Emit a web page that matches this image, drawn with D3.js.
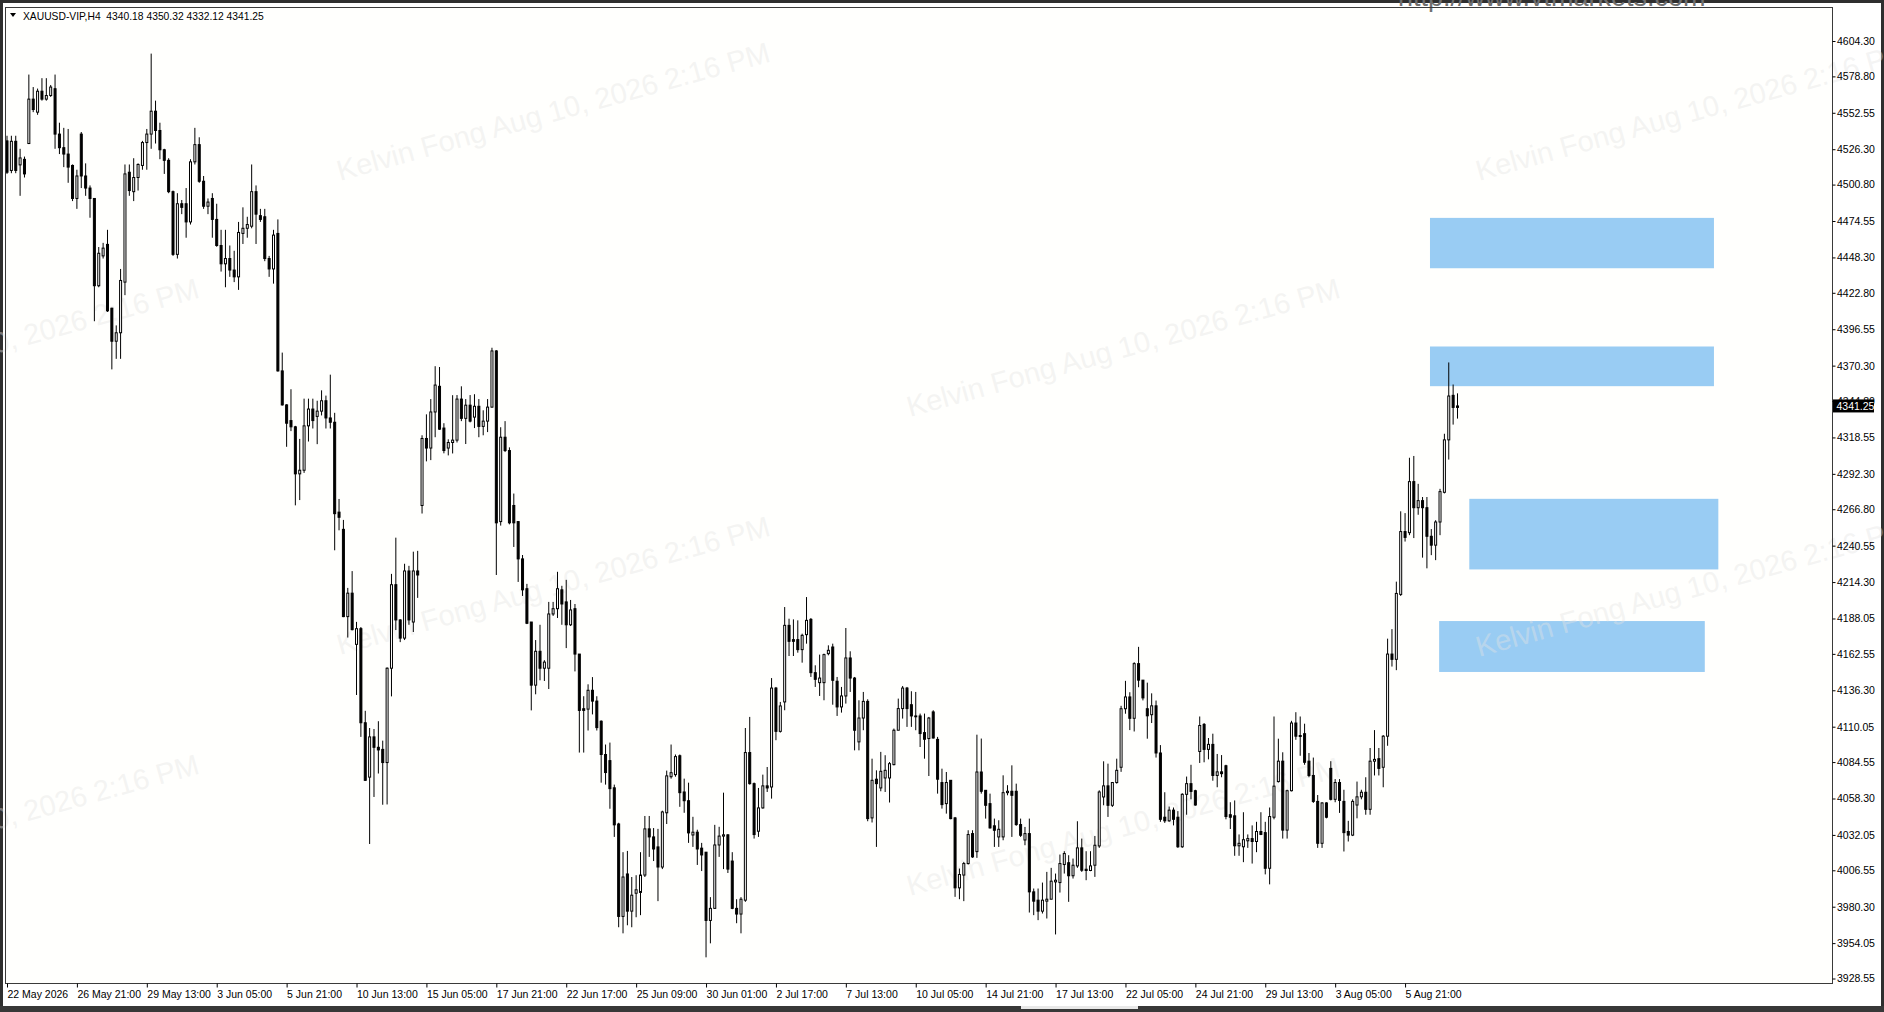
<!DOCTYPE html>
<html><head><meta charset="utf-8">
<script src="https://cdn.jsdelivr.net/npm/d3@7/dist/d3.min.js"></script>
<style>
html,body{margin:0;padding:0;background:#2f2f2f;overflow:hidden;}
svg{display:block;}
text{font-family:"Liberation Sans",Arial,sans-serif;}
</style></head><body>
<svg id="c" width="1884" height="1012"></svg>
<script>
// ---------------- DATA ----------------
const symbol = "XAUUSD-VIP,H4";
const headerOHLC = ["4340.18","4350.32","4332.12","4341.25"];
const lastPrice = 4341.25;

const opens = [
4532.3,4511.0,4532.0,4515.0,4519.0,4530.4,4562.4,4553.0,4568.1,4562.4,
4565.0,4569.9,4537.2,4527.4,4522.8,4514.6,4490.8,4537.2,4507.0,4498.3,
4490.8,4427.9,4449.4,4457.7,4411.7,4387.9,4394.0,4430.5,4509.7,4495.7,
4505.9,4514.6,4531.1,4537.2,4553.7,4539.8,4525.9,4518.3,4495.7,4450.5,
4487.0,4487.0,4473.9,4517.2,4529.6,4503.2,4485.2,4490.8,4475.7,4456.9,
4443.7,4447.5,4439.2,4434.3,4465.6,4469.3,4470.8,4495.7,4478.4,4477.6,
4447.5,4440.0,4465.6,4366.5,4342.0,4330.7,4326.2,4292.3,4294.9,4326.9,
4339.0,4333.7,4337.5,4345.0,4332.6,4329.5,4264.7,4252.3,4189.4,4206.3,
4169.4,4180.7,4112.9,4073.7,4102.7,4095.2,4093.7,4084.2,4152.2,4212.4,
4187.0,4173.9,4222.3,4185.5,4222.3,4269.5,4317.8,4310.9,4336.9,4355.4,
4325.3,4310.9,4314.9,4316.6,4346.2,4332.3,4341.8,4333.2,4341.0,4326.5,
4330.3,4340.4,4380.9,4257.9,4318.7,4309.1,4269.5,4257.9,4231.0,4209.5,
4185.5,4140.0,4164.4,4152.2,4152.2,4191.3,4195.1,4208.7,4200.0,4183.5,
4195.1,4162.4,4123.0,4122.7,4136.3,4128.5,4114.0,4090.0,4085.6,4066.0,
4039.9,3973.3,4003.9,3977.1,3990.0,3990.6,4003.1,4036.4,4030.6,4023.4,
4008.9,4048.0,4074.0,4075.5,4089.1,4063.0,4056.7,4032.0,4034.0,4022.5,
4019.6,3970.4,3979.1,4024.8,4031.2,4032.1,4013.2,3979.1,3975.0,3985.0,
4091.4,4069.0,4034.7,4051.5,4067.4,4066.6,4137.9,4106.7,4127.9,4183.1,
4172.8,4172.8,4165.6,4176.4,4187.4,4149.0,4141.8,4141.8,4162.7,4167.5,
4142.8,4124.3,4132.2,4159.6,4145.1,4099.1,4116.3,4128.3,4044.3,4072.2,
4065.9,4073.1,4073.1,4082.7,4107.5,4123.1,4137.9,4125.9,4117.8,4117.8,
4105.8,4101.5,4120.7,4100.9,4069.8,4054.6,4071.4,4044.3,3993.9,4003.1,
4011.4,4033.0,4020.0,4077.4,4064.2,4054.6,4038.6,4030.6,4030.6,4062.5,
4063.5,4063.5,4039.5,4028.4,4033.0,3991.0,3985.0,3977.1,3984.3,3985.7,
3998.2,3997.7,4010.7,4012.0,4002.6,4009.7,4022.7,4007.3,4006.4,4010.2,
4024.1,4059.4,4067.4,4053.4,4069.8,4080.8,4123.0,4131.5,4116.1,4155.5,
4143.6,4123.0,4118.7,4125.1,4091.1,4044.8,4042.2,4049.9,4044.8,4023.5,
4061.3,4069.0,4063.9,4092.2,4111.7,4093.7,4097.3,4074.9,4077.5,4081.9,
4046.6,4045.8,4024.2,4023.5,4027.8,4029.4,4027.3,4034.5,4033.7,4008.0,
4044.8,4070.5,4085.2,4035.5,4063.9,4112.7,4103.7,4105.0,4085.2,4074.9,
4056.2,4026.0,4055.1,4080.0,4057.7,4069.8,4056.2,4034.5,4031.9,4053.6,
4059.5,4062.8,4050.5,4085.2,4087.0,4080.8,4103.2,4162.4,4158.6,4205.4,
4250.7,4249.9,4286.7,4267.9,4273.0,4267.9,4247.3,4240.9,4257.6,4279.0,
4316.8,4348.9,4340.18];

const highs = [
4536.0,4536.0,4536.0,4526.6,4521.0,4580.1,4571.1,4570.0,4577.5,4577.5,
4572.6,4580.1,4545.4,4541.7,4540.9,4515.3,4511.5,4538.7,4516.1,4500.2,
4491.0,4455.8,4458.8,4468.2,4412.0,4399.3,4440.0,4515.3,4515.3,4519.8,
4516.1,4532.3,4540.9,4595.2,4561.3,4545.4,4526.6,4519.8,4496.5,4494.6,
4489.7,4498.3,4519.1,4541.7,4534.9,4507.0,4490.8,4494.6,4487.0,4468.2,
4468.2,4456.9,4453.1,4473.9,4484.4,4477.6,4515.3,4500.2,4483.3,4483.3,
4449.4,4468.2,4475.7,4379.7,4342.5,4353.3,4326.9,4317.5,4346.5,4346.5,
4346.5,4345.0,4352.5,4348.7,4363.8,4336.3,4274.2,4259.1,4210.1,4222.2,
4185.6,4181.9,4121.5,4109.1,4108.4,4114.0,4100.0,4152.8,4220.2,4246.3,
4187.5,4227.5,4226.0,4236.2,4236.8,4320.1,4335.2,4346.2,4369.9,4369.3,
4328.8,4317.2,4349.0,4349.1,4355.4,4346.2,4349.1,4349.7,4346.2,4338.1,
4346.2,4383.2,4381.5,4325.9,4330.3,4311.4,4278.1,4258.0,4233.8,4213.0,
4185.5,4172.5,4183.5,4158.0,4200.0,4200.0,4221.7,4211.6,4215.9,4201.4,
4198.5,4162.4,4132.0,4140.6,4145.8,4132.0,4114.6,4097.2,4098.6,4068.3,
4040.8,4019.6,4020.5,4001.7,4003.0,4019.6,4045.7,4045.7,4037.0,4036.4,
4049.5,4078.4,4097.2,4090.0,4090.0,4072.6,4069.7,4045.1,4035.8,4026.3,
4019.6,3987.2,4039.3,4037.9,4062.5,4032.5,4019.6,3985.7,3987.2,4109.1,
4117.1,4069.8,4065.9,4075.5,4081.0,4145.1,4138.7,4127.9,4196.3,4187.9,
4187.4,4186.7,4177.1,4203.5,4188.4,4154.3,4162.0,4162.7,4168.7,4169.9,
4145.9,4138.7,4181.2,4164.4,4145.9,4129.1,4135.1,4129.8,4087.0,4078.6,
4091.9,4089.5,4084.6,4108.7,4130.3,4139.4,4138.7,4135.6,4135.1,4119.5,
4119.5,4117.1,4121.9,4102.7,4079.8,4077.4,4071.4,4045.0,4007.8,4012.6,
4035.4,4035.4,4104.3,4101.5,4064.2,4061.8,4043.8,4042.6,4075.0,4067.9,
4082.2,4069.0,4043.8,4037.8,4043.8,3993.4,3993.4,3997.7,4005.4,4008.3,
4004.2,4017.9,4020.3,4017.4,4015.0,4041.9,4029.4,4020.3,4020.3,4031.3,
4064.2,4085.1,4083.4,4070.2,4087.0,4125.1,4143.1,4134.9,4156.5,4167.6,
4143.6,4141.8,4134.1,4128.9,4096.8,4062.8,4052.5,4051.8,4049.2,4062.1,
4074.1,4082.6,4064.6,4117.4,4112.7,4101.9,4105.0,4090.4,4089.6,4082.6,
4055.6,4056.9,4032.4,4048.4,4032.4,4038.9,4041.5,4048.4,4041.5,4051.8,
4117.4,4101.4,4091.6,4064.6,4114.3,4120.5,4117.4,4112.2,4091.1,4087.8,
4060.8,4055.6,4055.6,4085.2,4072.3,4072.3,4064.6,4042.2,4057.7,4070.5,
4064.6,4073.6,4094.7,4107.6,4094.7,4104.0,4173.5,4180.4,4214.6,4265.3,
4264.0,4303.9,4305.2,4285.1,4275.6,4275.6,4252.5,4258.9,4281.5,4321.2,
4372.6,4356.7,4350.32];

const lows = [
4508.5,4509.0,4509.0,4492.7,4505.9,4530.0,4553.0,4551.1,4561.3,4561.3,
4564.0,4526.6,4522.8,4513.4,4502.1,4488.9,4483.3,4498.3,4492.7,4476.9,
4402.3,4426.8,4447.5,4409.0,4367.6,4375.2,4375.2,4421.1,4492.7,4488.9,
4496.5,4511.5,4511.5,4526.6,4530.4,4519.1,4508.5,4494.6,4449.4,4447.5,
4479.5,4462.5,4472.0,4515.3,4502.1,4483.3,4479.5,4462.5,4456.0,4438.1,
4426.8,4434.3,4430.5,4424.9,4458.0,4462.5,4469.3,4458.0,4473.9,4445.6,
4434.3,4429.4,4366.0,4341.5,4311.8,4323.1,4269.6,4273.4,4293.0,4315.6,
4325.0,4313.7,4334.4,4325.0,4325.0,4237.2,4251.6,4189.0,4174.3,4179.5,
4132.9,4102.7,4071.0,4025.5,4059.4,4076.3,4053.8,4054.0,4131.9,4179.7,
4171.0,4172.5,4183.5,4178.3,4202.9,4263.7,4301.3,4302.2,4318.7,4324.0,
4307.1,4305.6,4307.0,4314.9,4330.3,4313.8,4329.4,4325.3,4318.7,4320.1,
4322.4,4340.0,4219.4,4255.0,4308.0,4255.9,4239.6,4214.4,4204.3,4184.0,
4121.8,4133.4,4143.5,4143.0,4137.2,4189.9,4188.4,4183.5,4166.7,4182.6,
4149.9,4091.4,4091.4,4107.3,4118.9,4107.3,4069.7,4068.3,4050.9,4030.6,
3965.5,3961.1,3966.9,3965.5,3972.7,3974.2,4001.7,4016.2,4013.2,3984.3,
4007.4,4039.9,4072.6,4074.0,4052.3,4048.0,4026.3,4023.4,4010.4,4006.0,
3943.8,3953.9,3979.0,4016.2,4007.4,4004.6,3978.5,3968.4,3961.1,3983.8,
4068.3,4029.4,4030.6,4051.0,4063.0,4058.2,4100.3,4105.8,4121.9,4161.0,
4161.0,4163.4,4156.2,4169.9,4145.9,4138.7,4132.2,4129.1,4161.5,4125.9,
4117.8,4120.2,4126.7,4135.1,4093.0,4093.0,4107.5,4041.9,4041.0,4023.4,
4063.5,4063.0,4055.4,4082.2,4107.5,4115.9,4109.9,4109.9,4107.5,4095.4,
4087.0,4074.5,4101.5,4061.8,4051.0,4047.4,4043.3,3987.4,3985.7,3984.3,
4010.7,4015.5,4015.5,4061.8,4043.8,4036.6,4023.4,4023.4,4028.2,4060.6,
4030.6,4038.6,4030.6,4024.6,3976.1,3974.2,3970.6,3975.4,3971.8,3985.7,
3960.3,3990.5,4004.2,3983.8,4000.6,4008.3,4005.4,3999.4,4005.9,4001.8,
4022.7,4053.4,4045.0,4052.2,4069.0,4077.5,4119.4,4107.6,4106.6,4138.5,
4129.0,4101.4,4112.7,4087.8,4041.5,4040.7,4041.5,4038.9,4022.7,4022.7,
4046.6,4057.7,4053.1,4083.9,4084.4,4086.5,4071.1,4066.4,4073.6,4043.3,
4036.3,4017.0,4017.0,4012.4,4022.7,4011.4,4019.6,4031.9,4003.6,3996.4,
4043.3,4069.8,4029.4,4029.4,4063.4,4100.6,4089.1,4082.6,4073.6,4055.1,
4022.7,4022.7,4044.0,4056.9,4055.6,4047.9,4020.1,4027.3,4031.2,4044.0,
4057.7,4046.6,4046.6,4074.9,4074.9,4066.4,4096.3,4153.4,4150.8,4204.3,
4243.5,4248.1,4246.0,4262.8,4231.9,4224.2,4233.7,4230.1,4248.1,4278.2,
4302.6,4327.8,4332.12];

const closes = [
4509.7,4532.0,4511.0,4520.0,4508.5,4562.4,4554.9,4568.1,4562.4,4565.0,
4571.1,4537.2,4527.4,4522.8,4513.4,4490.8,4507.0,4507.0,4498.3,4490.8,
4427.9,4451.3,4455.0,4409.8,4387.9,4394.0,4431.7,4508.5,4496.5,4505.9,
4515.3,4531.1,4537.2,4553.7,4539.8,4525.9,4518.3,4495.7,4450.5,4487.0,
4484.4,4473.9,4517.2,4529.6,4503.2,4485.2,4488.2,4475.7,4456.9,4443.7,
4447.5,4439.2,4434.3,4466.3,4469.3,4472.0,4495.7,4479.5,4475.7,4447.5,
4440.0,4464.4,4366.5,4342.0,4328.8,4326.2,4292.3,4294.9,4326.9,4339.0,
4330.7,4337.5,4345.0,4332.6,4329.5,4263.6,4261.0,4189.4,4206.3,4180.0,
4180.7,4112.9,4071.4,4102.7,4095.2,4093.3,4084.2,4152.2,4212.4,4187.0,
4173.9,4222.3,4187.0,4222.3,4219.4,4317.8,4310.9,4336.9,4356.3,4324.5,
4309.1,4314.9,4316.6,4346.2,4332.3,4341.8,4330.3,4341.0,4326.5,4330.3,
4340.4,4380.9,4257.0,4318.7,4309.1,4257.0,4257.0,4231.0,4208.7,4184.6,
4140.0,4164.4,4152.2,4156.6,4191.3,4195.1,4209.5,4198.5,4183.5,4194.2,
4162.4,4121.8,4121.8,4136.3,4128.5,4109.4,4090.0,4077.0,4065.4,4039.3,
3973.3,4001.7,3977.1,3988.6,3992.5,4003.1,4036.4,4030.6,4021.9,4008.9,
4048.6,4074.6,4076.9,4088.5,4062.5,4056.7,4033.5,4034.0,4021.9,4017.6,
3970.4,3979.1,4024.8,4031.2,4032.1,4007.4,3979.1,3975.0,3985.7,4091.4,
4069.0,4032.3,4051.5,4067.4,4065.9,4137.9,4106.7,4125.0,4183.1,4171.6,
4171.6,4165.6,4175.9,4186.7,4149.0,4144.2,4145.1,4162.0,4165.1,4143.5,
4124.3,4132.2,4159.6,4145.1,4107.5,4116.3,4128.3,4043.8,4071.4,4069.0,
4077.9,4078.6,4083.4,4107.5,4123.1,4137.9,4123.1,4117.8,4117.2,4105.1,
4101.0,4116.3,4101.9,4072.2,4053.9,4069.8,4043.8,3993.9,4003.5,4011.4,
4032.3,4016.2,4077.4,4063.5,4053.4,4037.1,4035.4,4036.1,4062.5,4063.5,
4060.6,4039.5,4031.8,4033.0,3991.0,3984.3,3977.1,3985.0,3985.7,3998.7,
3999.4,4011.4,4018.6,4002.6,4010.2,4022.7,4006.6,4006.4,4009.7,4024.6,
4063.0,4067.4,4053.4,4069.8,4078.6,4123.0,4131.5,4116.1,4155.5,4143.6,
4130.8,4117.9,4125.1,4091.1,4043.3,4042.2,4049.9,4043.3,4023.5,4061.3,
4069.0,4063.4,4053.6,4110.9,4093.7,4097.3,4074.9,4077.5,4076.2,4045.3,
4044.8,4024.2,4026.0,4028.6,4029.4,4027.3,4034.5,4032.4,4008.0,4045.3,
4067.2,4085.2,4035.5,4063.9,4112.7,4103.2,4103.0,4084.4,4074.9,4056.2,
4026.0,4055.1,4044.8,4057.7,4069.8,4056.9,4033.7,4031.9,4056.2,4059.5,
4062.8,4050.5,4085.2,4086.5,4080.0,4103.2,4162.4,4158.6,4206.1,4250.7,
4246.5,4286.7,4267.9,4273.0,4267.9,4247.3,4240.9,4257.6,4279.5,4316.8,
4348.4,4340.2,4341.25];

const timeLabels = ["22 May 2026","26 May 21:00","29 May 13:00","3 Jun 05:00","5 Jun 21:00",
"10 Jun 13:00","15 Jun 05:00","17 Jun 21:00","22 Jun 17:00","25 Jun 09:00","30 Jun 01:00",
"2 Jul 17:00","7 Jul 13:00","10 Jul 05:00","14 Jul 21:00","17 Jul 13:00","22 Jul 05:00",
"24 Jul 21:00","29 Jul 13:00","3 Aug 05:00","5 Aug 21:00"];
const barsPerTimeLabel = 16;

const priceTicks = [4604.30,4578.80,4552.55,4526.30,4500.80,4474.55,4448.30,4422.80,4396.55,
4370.30,4344.80,4318.55,4292.30,4266.80,4240.55,4214.30,4188.05,4162.55,4136.30,4110.05,
4084.55,4058.30,4032.05,4006.55,3980.30,3954.05,3928.55];

// zones: bar index range and price range
const zoneStart  = [325.7, 325.7, 334.7, 327.8];
const zoneEnd    = [390.7, 390.7, 391.7, 388.6];
const zoneTop    = [4476.8, 4384.1, 4274.3, 4186.2];
const zoneBottom = [4440.5, 4355.5, 4223.4, 4149.5];

const watermarkText = "Kelvin Fong Aug 10, 2026 2:16 PM";
const siteText = "http://www.vtmarkets.com";

// ---------------- LAYOUT ----------------
const svg = d3.select("#c");
const P = {left:5.5, right:1832.5, top:7.5, bottom:983.5};
const n = closes.length;
const x = d3.scaleLinear().domain([0, n-1]).range([7, 1457.5]);
const y = d3.scaleLinear().domain([3928.55, 4604.30]).range([978.5, 41]);

// window background
svg.append("rect").attr("x",0).attr("y",0).attr("width",1884).attr("height",1012).attr("fill","#2f2f2f");
svg.append("rect").attr("x",3).attr("y",3).attr("width",1878).attr("height",1003).attr("fill","#ffffff");
svg.append("rect").attr("x",P.left).attr("y",P.top).attr("width",P.right-P.left).attr("height",P.bottom-P.top).attr("fill","#fffffd");

const defs = svg.append("defs");
defs.append("clipPath").attr("id","plotclip").append("rect")
  .attr("x",P.left).attr("y",P.top).attr("width",P.right-P.left).attr("height",P.bottom-P.top);

// zones
const zg = svg.append("g").attr("clip-path","url(#plotclip)");
zg.selectAll("rect").data(d3.range(zoneStart.length)).join("rect")
  .attr("x", i => x(zoneStart[i]))
  .attr("width", i => x(zoneEnd[i]) - x(zoneStart[i]))
  .attr("y", i => y(zoneTop[i]))
  .attr("height", i => y(zoneBottom[i]) - y(zoneTop[i]))
  .attr("fill", "#99ccf3");

// site text at top (cut off by the window edge)
svg.append("text").attr("x",1398).attr("y",6).attr("font-size",27).attr("fill","#707070")
  .text(siteText);

// watermarks
const wmPos = [[340,181],[1479,181],[-231,417],[910,417],[340,655],[1479,657],[-231,893],[910,896]];
const wg = svg.append("g");
wg.selectAll("text").data(wmPos).join("text")
  .attr("transform", d => `translate(${d[0]},${d[1]}) rotate(-15.5)`)
  .attr("font-size", 29)
  .attr("fill", "#e4e4e4")
  .attr("fill-opacity", 0.42)
  .text(watermarkText);

// candles
const cg = svg.append("g").attr("clip-path","url(#plotclip)");
const idx = d3.range(n);
cg.selectAll("line.wick").data(idx).join("line").attr("class","wick")
  .attr("x1", i => x(i)).attr("x2", i => x(i))
  .attr("y1", i => y(highs[i])).attr("y2", i => y(lows[i]))
  .attr("stroke","#000").attr("stroke-width",1);
cg.selectAll("rect.body").data(idx).join("rect").attr("class","body")
  .attr("x", i => x(i) - 1)
  .attr("width", 2)
  .attr("y", i => y(Math.max(opens[i], closes[i])))
  .attr("height", i => Math.max(0.5, Math.abs(y(opens[i]) - y(closes[i]))))
  .attr("fill", i => closes[i] >= opens[i] ? "#ffffff" : "#000000")
  .attr("stroke", "#000").attr("stroke-width", 1);

// frame
svg.append("rect").attr("x",P.left).attr("y",P.top).attr("width",P.right-P.left).attr("height",P.bottom-P.top)
  .attr("fill","none").attr("stroke","#3a3a3a").attr("stroke-width",1);

// header
svg.append("path").attr("d","M10,13 L16,13 L13,17 Z").attr("fill","#000");
svg.append("text").attr("x",23).attr("y",19.5).attr("font-size",10.3).attr("fill","#000")
  .attr("xml:space","preserve").style("white-space","pre")
  .text(symbol + "  " + headerOHLC.join(" "));

// y axis
const ya = svg.append("g").attr("transform",`translate(${P.right},0)`)
  .call(d3.axisRight(y).tickValues(priceTicks).tickSize(3).tickPadding(1.5).tickFormat(d => d.toFixed(2)));
ya.select(".domain").remove();
ya.selectAll("line").attr("stroke","#000");
ya.selectAll("text").attr("font-size",10.5).attr("fill","#000").attr("font-family","Liberation Sans, Arial, sans-serif");

// x axis
const xa = svg.append("g").attr("transform",`translate(0,${P.bottom})`)
  .call(d3.axisBottom(x).tickValues(timeLabels.map((_,k)=>k*barsPerTimeLabel)).tickSize(4).tickPadding(3)
    .tickFormat((d,k)=>timeLabels[k]));
xa.select(".domain").remove();
xa.selectAll("line").attr("stroke","#000");
xa.selectAll("text").attr("text-anchor","start").attr("x",0).attr("font-size",10.5).attr("fill","#000")
  .attr("font-family","Liberation Sans, Arial, sans-serif");

// current price box (drawn over the hidden 4344.80 tick label, as on the terminal)
const yp = y(lastPrice);
svg.append("rect").attr("x",P.right+0.5).attr("y",yp-6.5).attr("width",41).attr("height",13).attr("fill","#000");
svg.append("text").attr("x",P.right+4).attr("y",yp+3.8).attr("font-size",10.5).attr("fill","#fff").text(lastPrice.toFixed(2));

// bottom bar
svg.append("rect").attr("x",0).attr("y",1006).attr("width",1884).attr("height",6).attr("fill","#383838");
svg.append("rect").attr("x",1021).attr("y",1006).attr("width",117).attr("height",3).attr("fill","#e8e8e8");
</script>
</body></html>
